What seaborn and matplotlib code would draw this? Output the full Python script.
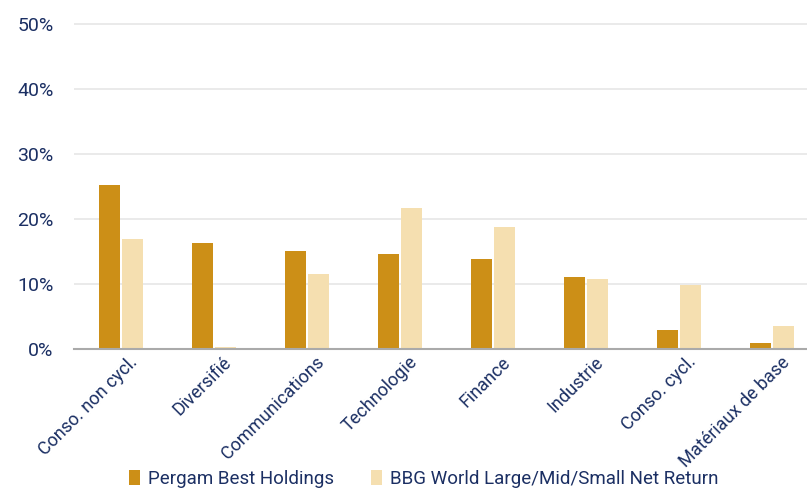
import pandas as pd
import matplotlib.pyplot as plt
import matplotlib.transforms as mtransforms
import seaborn as sns
from matplotlib.ticker import PercentFormatter

# Data
sectors = ["Conso. non cycl.", "Diversifié", "Communications", "Technologie",
           "Finance", "Industrie", "Conso. cycl.", "Matériaux de base"]
pergam = [25.2, 16.3, 15.1, 14.6, 13.8, 11.1, 2.9, 0.9]
bbg = [16.9, 0.3, 11.5, 21.7, 18.8, 10.8, 9.8, 3.5]
series = ["Pergam Best Holdings", "BBG World Large/Mid/Small Net Return"]

df = pd.DataFrame({
    "sector": sectors * 2,
    "value": pergam + bbg,
    "series": [series[0]] * len(sectors) + [series[1]] * len(sectors),
})

navy = "#1b2f63"
sns.set_theme(style="white")
plt.rcParams["font.family"] = ["Roboto", "DejaVu Sans"]

fig = plt.figure(figsize=(8.07, 4.9), dpi=100)
ax = fig.add_axes([0.092, 0.288, 0.911, 0.68])

sns.barplot(data=df, x="sector", y="value", hue="series",
            palette=["#cc8f17", "#f5dfb0"], saturation=1, width=0.5, gap=0.1,
            linewidth=0, ax=ax)

ax.set_ylim(0, 50 * 0.68 / 0.663)
ax.set_yticks([0, 10, 20, 30, 40, 50])
ax.yaxis.set_major_formatter(PercentFormatter(decimals=0))
ax.set_xlim(-0.5, 7.4)
ax.yaxis.grid(True, color="#e6e6e6", linewidth=1.2)
ax.set_axisbelow(True)
for s in ["top", "right", "left"]:
    ax.spines[s].set_visible(False)
ax.spines["bottom"].set_color("#aaaaaa")
ax.spines["bottom"].set_linewidth(1.5)
ax.set_xlabel("")
ax.set_ylabel("")
ax.tick_params(axis="y", labelsize=14, colors=navy, length=0, pad=15)
ax.tick_params(axis="x", labelsize=13, colors=navy, length=0, pad=3)
shift = mtransforms.ScaledTranslation(8 / 100, 0, fig.dpi_scale_trans)
for lab in ax.get_xticklabels():
    lab.set_rotation(45)
    lab.set_ha("right")
    lab.set_rotation_mode("anchor")
    lab.set_transform(lab.get_transform() + shift)

leg = ax.legend(loc="lower center", ncol=2, frameon=False, fontsize=13.5,
                handlelength=0.6, handleheight=0.9, handletextpad=0.4,
                columnspacing=2.0, borderaxespad=0, borderpad=0.1)
leg.set_bbox_to_anchor((0.525, 0.0), transform=fig.transFigure)
for t in leg.get_texts():
    t.set_color(navy)

fig.savefig("out.png", dpi=100)
